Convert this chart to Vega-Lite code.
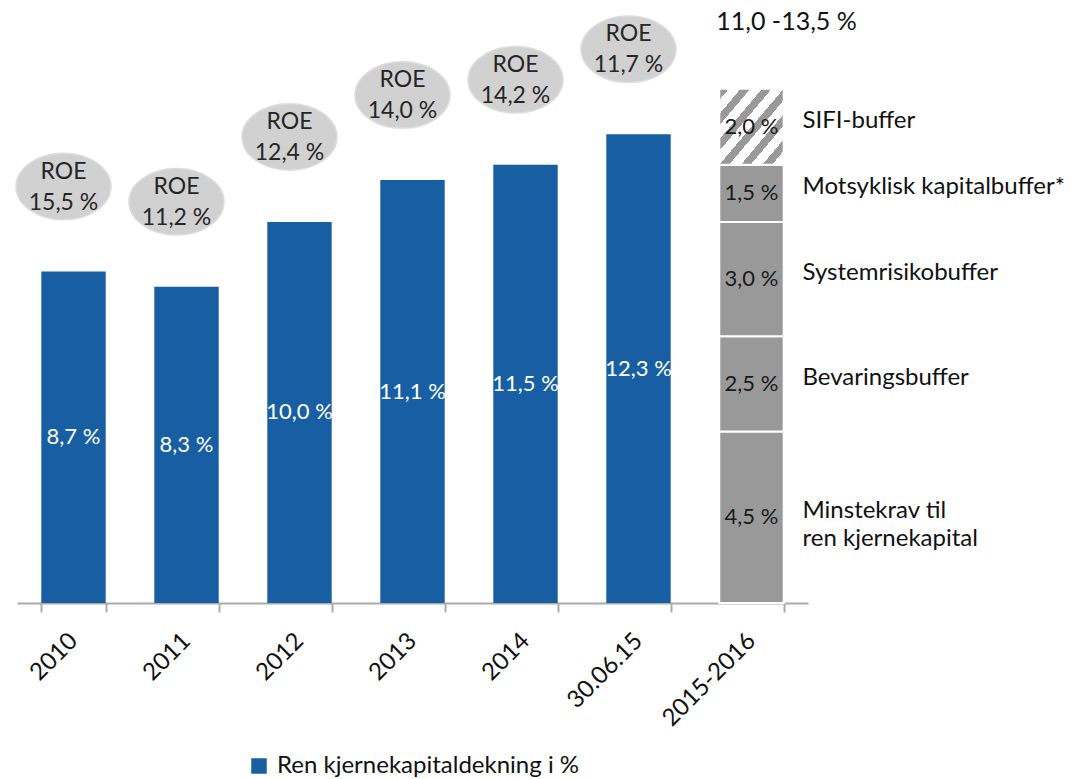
{
  "$schema": "https://vega.github.io/schema/vega-lite/v6.json",
  "width": 791,
  "height": 602,
  "autosize": "none",
  "padding": {"left": 17, "top": 1, "right": 284, "bottom": 176},
  "background": "white",
  "config": {"view": {"stroke": null}, "font": "Lato", "text": {"font": "Lato"}},
  "datasets": {
    "bars": [
      {"period": "2010", "value": 8.7, "label": "8,7 %", "roe": "15,5 %"},
      {"period": "2011", "value": 8.3, "label": "8,3 %", "roe": "11,2 %"},
      {"period": "2012", "value": 10.0, "label": "10,0 %", "roe": "12,4 %"},
      {"period": "2013", "value": 11.1, "label": "11,1 %", "roe": "14,0 %"},
      {"period": "2014", "value": 11.5, "label": "11,5 %", "roe": "14,2 %"},
      {"period": "30.06.15", "value": 12.3, "label": "12,3 %", "roe": "11,7 %"}
    ],
    "stack": [
      {"period": "2015-2016", "part": "Minstekrav", "name": "Minstekrav til\nren kjernekapital", "lo": 0, "hi": 4.5, "label": "4,5 %"},
      {"period": "2015-2016", "part": "Bevaringsbuffer", "name": "Bevaringsbuffer", "lo": 4.5, "hi": 7.0, "label": "2,5 %"},
      {"period": "2015-2016", "part": "Systemrisikobuffer", "name": "Systemrisikobuffer", "lo": 7.0, "hi": 10.0, "label": "3,0 %"},
      {"period": "2015-2016", "part": "Motsyklisk", "name": "Motsyklisk kapitalbuffer*", "lo": 10.0, "hi": 11.5, "label": "1,5 %"},
      {"period": "2015-2016", "part": "SIFI", "name": "SIFI-buffer", "lo": 11.5, "hi": 13.5, "label": "2,0 %"}
    ],
    "header": [
      {"period": "2015-2016", "top": 13.5, "text": "11,0 -13,5 %"}
    ]
  },
  "encoding": {
    "x": {
      "field": "period",
      "type": "nominal",
      "sort": null,
      "scale": {"domain": ["2010", "2011", "2012", "2013", "2014", "30.06.15", "2015-2016"], "paddingInner": 0.43, "paddingOuter": 0.215},
      "axis": {
        "title": null,
        "labelAngle": -45,
        "labelAlign": "right",
        "labelBaseline": "middle",
        "labelFontSize": 24,
        "labelFont": "Lato",
        "labelColor": "#111111",
        "labelPadding": 25,
        "tickSize": 9,
        "tickWidth": 2,
        "tickColor": "#aaaaaa",
        "domainColor": "#aaaaaa",
        "domainWidth": 2,
        "tickBand": "extent",
        "grid": false
      }
    }
  },
  "layer": [
    {
      "data": {"name": "bars"},
      "mark": {"type": "bar"},
      "encoding": {
        "y": {"field": "value", "type": "quantitative", "scale": {"domain": [0, 15.8], "nice": false}, "axis": null},
        "color": {
          "datum": "Ren kjernekapitaldekning i %",
          "scale": {"range": ["#175FA2"]},
          "legend": {
            "orient": "none",
            "legendX": 230,
            "legendY": 753,
            "title": null,
            "symbolType": "square",
            "symbolSize": 240,
            "symbolStrokeWidth": 0,
            "labelFontSize": 24,
            "labelFont": "Lato",
            "labelColor": "#111111",
            "labelOffset": 6,
            "labelLimit": 0
          }
        }
      }
    },
    {
      "data": {"name": "bars"},
      "mark": {"type": "text", "color": "white", "fontSize": 22, "baseline": "middle", "align": "center"},
      "encoding": {
        "y": {"field": "value", "type": "quantitative", "scale": {"domain": [0, 31.6], "nice": false}, "axis": null},
        "text": {"field": "label"}
      }
    },
    {
      "data": {"name": "bars"},
      "mark": {
        "type": "point",
        "shape": "M -1 0 C -1 -0.3866 -0.5523 -0.7 0 -0.7 C 0.5523 -0.7 1 -0.3866 1 0 C 1 0.3866 0.5523 0.7 0 0.7 C -0.5523 0.7 -1 0.3866 -1 0 Z",
        "size": 9025,
        "filled": true,
        "color": "#d1d1d1",
        "stroke": "#dddddd",
        "strokeWidth": 1.5,
        "opacity": 1,
        "xOffset": -10,
        "yOffset": -85
      },
      "encoding": {
        "y": {"field": "value", "type": "quantitative", "scale": {"domain": [0, 15.8], "nice": false}, "axis": null}
      }
    },
    {
      "data": {"name": "bars"},
      "mark": {"type": "text", "color": "#262626", "fontSize": 23, "baseline": "middle", "align": "center", "dx": -10, "dy": -100},
      "encoding": {
        "y": {"field": "value", "type": "quantitative", "scale": {"domain": [0, 15.8], "nice": false}, "axis": null},
        "text": {"value": "ROE"}
      }
    },
    {
      "data": {"name": "bars"},
      "mark": {"type": "text", "color": "#262626", "fontSize": 23, "baseline": "middle", "align": "center", "dx": -10, "dy": -69},
      "encoding": {
        "y": {"field": "value", "type": "quantitative", "scale": {"domain": [0, 15.8], "nice": false}, "axis": null},
        "text": {"field": "roe"}
      }
    },
    {
      "data": {"name": "stack"},
      "transform": [{"filter": "datum.part !== 'SIFI'"}],
      "mark": {"type": "bar", "color": "#999999", "stroke": "white", "strokeWidth": 2},
      "encoding": {
        "y": {"field": "lo", "type": "quantitative", "scale": {"domain": [0, 15.8], "nice": false}, "axis": null},
        "y2": {"field": "hi"}
      }
    },
    {
      "data": {"name": "stack"},
      "transform": [{"filter": "datum.part === 'SIFI'"}],
      "mark": {
        "type": "bar",
        "stroke": "white",
        "strokeWidth": 2,
        "color": {
          "gradient": "linear",
          "x1": 0, "y1": 0, "x2": 1, "y2": 1,
          "stops": [
            {"offset": 0, "color": "#999999"}, {"offset": 0.075, "color": "#999999"}, {"offset": 0.075, "color": "#ffffff"}, {"offset": 0.1667, "color": "#ffffff"},
            {"offset": 0.1667, "color": "#999999"}, {"offset": 0.2417, "color": "#999999"}, {"offset": 0.2417, "color": "#ffffff"}, {"offset": 0.3333, "color": "#ffffff"},
            {"offset": 0.3333, "color": "#999999"}, {"offset": 0.4083, "color": "#999999"}, {"offset": 0.4083, "color": "#ffffff"}, {"offset": 0.5, "color": "#ffffff"},
            {"offset": 0.5, "color": "#999999"}, {"offset": 0.575, "color": "#999999"}, {"offset": 0.575, "color": "#ffffff"}, {"offset": 0.6667, "color": "#ffffff"},
            {"offset": 0.6667, "color": "#999999"}, {"offset": 0.7417, "color": "#999999"}, {"offset": 0.7417, "color": "#ffffff"}, {"offset": 0.8333, "color": "#ffffff"},
            {"offset": 0.8333, "color": "#999999"}, {"offset": 0.9083, "color": "#999999"}, {"offset": 0.9083, "color": "#ffffff"}, {"offset": 1, "color": "#ffffff"}
          ]
        }
      },
      "encoding": {
        "y": {"field": "lo", "type": "quantitative", "scale": {"domain": [0, 15.8], "nice": false}, "axis": null},
        "y2": {"field": "hi"}
      }
    },
    {
      "data": {"name": "stack"},
      "transform": [{"fold": ["lo", "hi"], "as": ["k", "v"]}],
      "mark": {"type": "text", "color": "#1a1a1a", "fontSize": 22, "baseline": "middle", "align": "center"},
      "encoding": {
        "y": {"aggregate": "mean", "field": "v", "type": "quantitative", "scale": {"domain": [0, 15.8], "nice": false}, "axis": null},
        "text": {"field": "label"}
      }
    },
    {
      "data": {"name": "stack"},
      "transform": [{"fold": ["lo", "hi"], "as": ["k", "v"]}],
      "mark": {"type": "text", "color": "#111111", "fontSize": 24, "baseline": "middle", "align": "left", "dx": 51, "dy": -6, "lineBreak": "\n", "lineHeight": 28},
      "encoding": {
        "y": {"aggregate": "mean", "field": "v", "type": "quantitative", "scale": {"domain": [0, 15.8], "nice": false}, "axis": null},
        "text": {"field": "name"}
      }
    },
    {
      "data": {"name": "header"},
      "mark": {"type": "text", "color": "#111111", "fontSize": 25, "baseline": "middle", "align": "center", "dx": 35, "dy": -67},
      "encoding": {
        "y": {"field": "top", "type": "quantitative", "scale": {"domain": [0, 15.8], "nice": false}, "axis": null},
        "text": {"field": "text"}
      }
    }
  ],
  "resolve": {"scale": {"y": "independent"}}
}
